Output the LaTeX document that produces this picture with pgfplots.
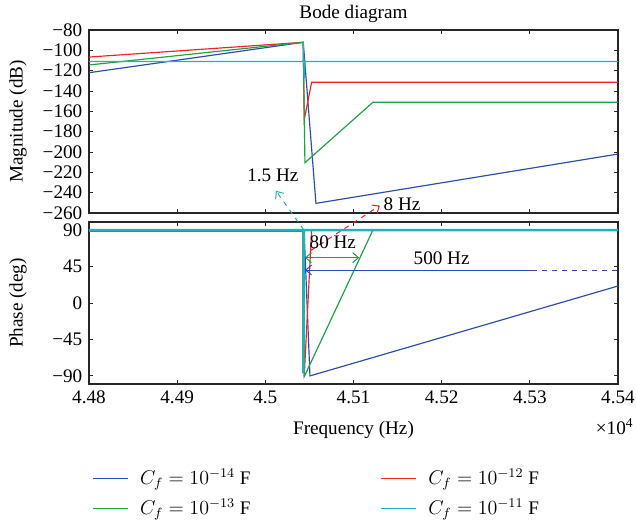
\documentclass[border=0pt]{standalone}
\usepackage{fontspec}
\setmainfont{Liberation Serif}
\usepackage{pgfplots}
\pgfplotsset{compat=1.18}
\usetikzlibrary{arrows.meta}

\definecolor{cblue}{RGB}{45,75,170}
\definecolor{cred}{RGB}{238,35,40}
\definecolor{cgreen}{RGB}{30,160,70}
\definecolor{ccyan}{RGB}{30,180,180}

\pgfplotsset{
  bodeax/.style={
    scale only axis,
    width=317.4pt,
    xmin=4.48, xmax=4.54,
    xtick={4.48,4.49,4.5,4.51,4.52,4.53,4.54},
    axis line style={black!85,line width=0.9pt},
    major tick length=2.5pt,
    every tick/.style={black!85,line width=0.6pt},
    ylabel style={at={(axis description cs:-0.134,0.5)},anchor=center},
    every axis plot/.append style={line width=0.7pt},
  }
}
\tikzset{mk/.style={line width=0.6pt,>={Straight Barb[length=3.5pt,width=6pt]}}}

\begin{document}
\fontsize{11.5}{13.8}\selectfont
\begin{tikzpicture}
\path[use as bounding box] (-53.4pt,-186pt) rectangle (328.2pt,127.8pt);

% magnitude
\begin{axis}[bodeax,
  at={(0,0)}, anchor=south west,
  height=109.8pt,
  ymin=-260, ymax=-80,
  ytick={-260,-240,-220,-200,-180,-160,-140,-120,-100,-80},
  yticklabels={−260,−240,−220,−200,−180,−160,−140,−120,−100,−80},
  xticklabels={},
  ylabel={Magnitude (dB)},
  title={Bode diagram},
  title style={at={(axis description cs:0.5,1)},anchor=center,yshift=3.8pt},
]
\addplot[cblue] coordinates {(4.48,-122) (4.5043,-92.1) (4.50574,-250.5) (4.54,-202)};
\addplot[cred] coordinates {(4.48,-106.6) (4.5043,-92.1) (4.50441,-168.5) (4.50525,-131.4) (4.54,-131.4)};
\addplot[cgreen] coordinates {(4.48,-114.4) (4.5043,-92.1) (4.50449,-210.5) (4.5122,-151.1) (4.54,-151.1)};
\addplot[ccyan] coordinates {(4.48,-111) (4.50428,-111) (4.5043,-92.1) (4.50441,-127.2) (4.5045,-111) (4.54,-111)};
\end{axis}

% phase
\begin{axis}[bodeax,
  at={(0,-5.4pt)}, anchor=north west,
  height=97.2pt,
  ymin=-100, ymax=100,
  ytick={-90,-45,0,45,90},
  yticklabels={−90,−45,0,45,90},
  xticklabels={4.48,4.49,4.5,4.51,4.52,4.53,4.54},
  xlabel={Frequency (Hz)},
  xlabel style={at={(axis description cs:0.5,0)},anchor=center,yshift=-27.6pt},
  ylabel={Phase (deg)},
  clip=false,
  legend columns=2,
  legend cell align=left,
  legend image code/.code={\draw[#1,line width=0.7pt] (0pt,0pt) -- (21pt,0pt);},
  legend style={draw=none,fill=none,at={(axis description cs:-0.004,-0.481)},anchor=north west,
    /tikz/every odd column/.append style={column sep=5pt},
    /tikz/every even column/.append style={column sep=76pt},
    row sep=2.8pt},
]
\addplot[cblue] coordinates {(4.48,89) (4.5044,89) (4.50506,-90) (4.54,21)};
\addlegendentry{$C_f = 10^{-14}$~F}
\addplot[cred] coordinates {(4.48,88.5) (4.5043,88.5) (4.50441,-91) (4.50525,90) (4.54,90)};
\addlegendentry{$C_f = 10^{-12}$~F}
\addplot[cgreen] coordinates {(4.48,89) (4.5043,89) (4.50441,-91) (4.5122,90) (4.54,90)};
\addlegendentry{$C_f = 10^{-13}$~F}
\addplot[ccyan,line width=1.5pt] coordinates {(4.48,90) (4.5043,90) (4.50432,-87) (4.50436,90) (4.54,90)};
\addlegendentry{$C_f = 10^{-11}$~F}

% frequency markers
\draw[ccyan,dashed,->,mk] (axis cs:4.50438,90) -- (axis cs:4.5012,138.5);
\node at (axis cs:4.50086,157.8) {1.5 Hz};
\draw[cred,dashed,->,mk] (axis cs:4.50517,65) -- (axis cs:4.51299,120.2);
\node[anchor=west,inner sep=1pt] at (axis cs:4.5132,122) {8 Hz};
\draw[cgreen,<->,mk] (axis cs:4.50449,56) -- (axis cs:4.51065,56);
\node at (axis cs:4.50766,75.2) {80 Hz};
\draw[cblue,<-,mk] (axis cs:4.5045,40.7) -- (axis cs:4.5302,40.7);
\draw[cblue,dashed,mk] (axis cs:4.5302,40.7) -- (axis cs:4.54,40.7);
\node at (axis cs:4.52,55.1) {500 Hz};
\node at (rel axis cs:1,0) [xshift=-2pt,yshift=-25.8pt] {×10\textsuperscript{4}};
\end{axis}
\end{tikzpicture}
\end{document}
